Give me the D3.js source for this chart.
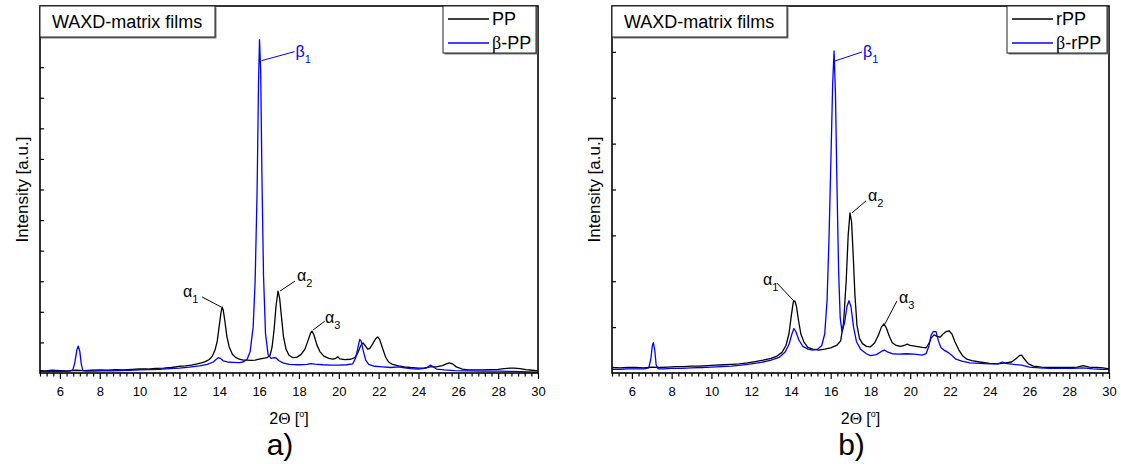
<!DOCTYPE html>
<html><head><meta charset="utf-8">
<script src="https://cdn.jsdelivr.net/npm/d3@7"></script>
<style>
body{margin:0;background:#fff}
svg{display:block}
text{font-family:"Liberation Sans", Arial, sans-serif;fill:#000}
</style>
</head><body>
<svg id="c" width="1121" height="464"></svg>
<script>
// ---------- DATA ----------
const xMajorTicks = [6,8,10,12,14,16,18,20,22,24,26,28,30];
const xDomain = [5, 30];
const boxTitle = "WAXD-matrix films";
const yTitle = "Intensity [a.u.]";

// Panel a) PP (black)
const ppA = [[5.0,0.08],[5.3,0.07],[5.6,0.09],[6.0,0.08],[6.4,0.07],[6.8,0.09],[7.2,0.08],[7.6,0.09],[8.0,0.10],[8.4,0.09],[8.8,0.11],[9.2,0.10],[9.6,0.12],[10.0,0.13],[10.4,0.13],[10.8,0.15],[11.2,0.16],[11.6,0.18],[12.0,0.22],[12.3,0.23],[12.6,0.26],[12.9,0.30],[13.1,0.33],[13.3,0.37],[13.5,0.44],[13.65,0.55],[13.8,0.78],[13.9,1.05],[14.0,1.55],[14.08,1.95],[14.14,2.16],[14.2,2.05],[14.28,1.7],[14.38,1.2],[14.5,0.85],[14.65,0.62],[14.8,0.52],[15.0,0.45],[15.2,0.42],[15.4,0.42],[15.6,0.41],[15.8,0.42],[16.0,0.45],[16.2,0.48],[16.4,0.5],[16.55,0.58],[16.65,0.85],[16.75,1.4],[16.85,2.2],[16.95,2.68],[17.03,2.45],[17.12,1.85],[17.22,1.2],[17.35,0.78],[17.5,0.58],[17.7,0.5],[17.9,0.52],[18.1,0.6],[18.3,0.78],[18.45,1.05],[18.58,1.3],[18.65,1.37],[18.75,1.25],[18.9,0.92],[19.05,0.7],[19.25,0.55],[19.5,0.48],[19.7,0.45],[19.85,0.48],[19.95,0.53],[20.05,0.46],[20.3,0.44],[20.6,0.45],[20.8,0.5],[20.95,0.65],[21.05,0.82],[21.15,0.95],[21.22,0.98],[21.32,0.9],[21.45,0.78],[21.55,0.8],[21.7,0.95],[21.85,1.12],[21.95,1.18],[22.05,1.1],[22.2,0.8],[22.35,0.52],[22.5,0.36],[22.7,0.28],[23.0,0.23],[23.3,0.2],[23.6,0.18],[24.0,0.16],[24.3,0.17],[24.6,0.2],[24.9,0.2],[25.2,0.24],[25.4,0.3],[25.55,0.33],[25.7,0.3],[25.9,0.2],[26.2,0.13],[26.5,0.1],[26.8,0.1],[27.2,0.1],[27.6,0.11],[28.0,0.12],[28.3,0.14],[28.6,0.16],[28.8,0.16],[29.1,0.14],[29.4,0.11],[29.7,0.09],[30.0,0.07]];

// Panel a) beta-PP (blue)
const bppA = [[5.0,0.05],[5.4,0.05],[5.8,0.06],[6.2,0.05],[6.5,0.06],[6.65,0.1],[6.75,0.35],[6.85,0.75],[6.92,0.88],[7.0,0.7],[7.07,0.3],[7.15,0.08],[7.3,0.06],[7.7,0.06],[8.1,0.07],[8.5,0.07],[9.0,0.08],[9.5,0.09],[10.0,0.1],[10.5,0.11],[11.0,0.12],[11.5,0.14],[12.0,0.16],[12.5,0.19],[13.0,0.23],[13.4,0.28],[13.7,0.36],[13.85,0.45],[13.95,0.5],[14.05,0.48],[14.2,0.4],[14.4,0.36],[14.7,0.35],[15.0,0.34],[15.2,0.36],[15.4,0.45],[15.55,0.7],[15.7,1.5],[15.8,3.0],[15.9,6.0],[15.97,9.5],[16.02,10.9],[16.08,9.8],[16.14,6.5],[16.22,3.2],[16.32,1.3],[16.45,0.6],[16.6,0.48],[16.75,0.5],[16.85,0.49],[17.0,0.4],[17.2,0.33],[17.5,0.28],[18.0,0.27],[18.4,0.28],[18.6,0.31],[18.8,0.29],[19.2,0.27],[19.6,0.26],[20.0,0.26],[20.4,0.27],[20.7,0.3],[20.85,0.5],[20.95,0.8],[21.05,1.1],[21.12,1.05],[21.22,0.75],[21.35,0.42],[21.5,0.28],[21.8,0.22],[22.2,0.2],[22.6,0.18],[23.0,0.2],[23.2,0.18],[23.6,0.14],[24.0,0.13],[24.4,0.16],[24.6,0.26],[24.7,0.22],[24.9,0.13],[25.3,0.1],[25.8,0.08],[26.5,0.07],[27.2,0.06],[28.0,0.06],[28.8,0.05],[29.5,0.04],[30.0,0.03]];

// Panel b) rPP (black)
const rppB = [[5.0,0.12],[5.4,0.11],[5.8,0.12],[6.2,0.12],[6.6,0.11],[7.0,0.13],[7.4,0.12],[7.8,0.13],[8.2,0.14],[8.6,0.14],[9.0,0.15],[9.4,0.15],[9.8,0.16],[10.2,0.17],[10.6,0.18],[11.0,0.19],[11.4,0.2],[11.8,0.22],[12.2,0.25],[12.6,0.28],[13.0,0.32],[13.3,0.37],[13.55,0.45],[13.75,0.6],[13.9,0.85],[14.02,1.25],[14.12,1.55],[14.2,1.57],[14.28,1.45],[14.38,1.15],[14.5,0.85],[14.65,0.68],[14.85,0.56],[15.1,0.52],[15.4,0.5],[15.7,0.52],[16.0,0.55],[16.3,0.6],[16.5,0.7],[16.65,1.1],[16.78,2.0],[16.88,3.0],[16.97,3.49],[17.05,3.3],[17.13,2.6],[17.22,1.7],[17.32,1.05],[17.45,0.75],[17.6,0.64],[17.8,0.58],[18.0,0.57],[18.2,0.65],[18.4,0.82],[18.55,1.0],[18.68,1.07],[18.8,0.98],[18.95,0.8],[19.1,0.66],[19.3,0.6],[19.5,0.58],[19.7,0.6],[19.85,0.63],[20.0,0.6],[20.3,0.58],[20.6,0.56],[20.8,0.55],[20.95,0.65],[21.05,0.76],[21.2,0.83],[21.35,0.8],[21.5,0.78],[21.65,0.85],[21.8,0.9],[21.95,0.92],[22.1,0.85],[22.25,0.68],[22.45,0.5],[22.65,0.37],[22.85,0.3],[23.1,0.27],[23.5,0.24],[24.0,0.21],[24.4,0.2],[24.8,0.22],[25.1,0.24],[25.35,0.32],[25.5,0.38],[25.6,0.39],[25.75,0.3],[25.95,0.2],[26.2,0.15],[26.6,0.13],[27.0,0.12],[27.5,0.12],[28.0,0.12],[28.4,0.13],[28.7,0.16],[29.0,0.13],[29.4,0.12],[29.7,0.11],[30.0,0.09]];

// Panel b) beta-rPP (blue)
const brppB = [[5.0,0.08],[5.4,0.08],[5.8,0.09],[6.2,0.09],[6.6,0.09],[6.85,0.11],[6.95,0.3],[7.03,0.6],[7.08,0.66],[7.15,0.5],[7.22,0.18],[7.32,0.09],[7.6,0.09],[8.0,0.1],[8.5,0.1],[9.0,0.11],[9.5,0.12],[10.0,0.13],[10.5,0.14],[11.0,0.15],[11.5,0.17],[12.0,0.2],[12.5,0.23],[13.0,0.28],[13.4,0.34],[13.7,0.45],[13.9,0.62],[14.05,0.85],[14.15,0.97],[14.25,0.9],[14.4,0.72],[14.6,0.58],[14.85,0.52],[15.1,0.5],[15.35,0.52],[15.55,0.6],[15.7,0.85],[15.82,1.6],[15.92,3.0],[16.02,4.8],[16.1,6.3],[16.17,7.02],[16.24,6.1],[16.32,4.0],[16.4,2.2],[16.48,1.2],[16.57,0.9],[16.7,1.1],[16.82,1.45],[16.92,1.575],[17.02,1.45],[17.15,1.0],[17.3,0.68],[17.5,0.52],[17.8,0.42],[18.0,0.38],[18.3,0.4],[18.55,0.47],[18.7,0.5],[18.85,0.46],[19.1,0.42],[19.4,0.41],[19.8,0.42],[20.2,0.41],[20.6,0.39],[20.8,0.42],[20.95,0.6],[21.05,0.82],[21.15,0.9],[21.3,0.9],[21.42,0.7],[21.55,0.55],[21.7,0.5],[21.9,0.45],[22.1,0.38],[22.3,0.3],[22.6,0.26],[23.0,0.22],[23.5,0.21],[24.0,0.2],[24.4,0.2],[24.65,0.24],[24.8,0.21],[25.2,0.19],[25.6,0.17],[26.0,0.13],[26.5,0.11],[27.0,0.1],[27.6,0.1],[28.2,0.1],[28.7,0.11],[29.2,0.09],[29.6,0.08],[30.0,0.08]];

const legendA = ["PP", "β-PP"];
const legendB = ["rPP", "β-rPP"];
const colors = ["#000000", "#0000ff"];

// ---------- DRAW ----------
const svg = d3.select("#c");

function panel(cfg){
  const g = svg.append("g");
  const x = d3.scaleLinear().domain(xDomain).range([cfg.left, cfg.right]);
  const y = d3.scaleLinear().domain([0, cfg.ymax]).range([cfg.bottom, cfg.top]);
  const id = "clip" + cfg.name;
  svg.append("clipPath").attr("id", id).append("rect")
    .attr("x", cfg.left).attr("y", cfg.top).attr("width", cfg.right-cfg.left).attr("height", cfg.bottom-cfg.top);

  // x axis: major + minor ticks, outward
  const minor = d3.range(5, 30.001, 1/3).filter(v => Math.abs(v/2 - Math.round(v/2)) > 0.01);
  const axM = g.append("g").attr("transform", `translate(0,${cfg.bottom})`)
    .call(d3.axisBottom(x).tickValues(xMajorTicks).tickSize(6).tickPadding(8).tickFormat(d3.format("d")));
  const axm = g.append("g").attr("transform", `translate(0,${cfg.bottom})`)
    .call(d3.axisBottom(x).tickValues(minor).tickSize(3.5).tickFormat(""));
  [axM, axm].forEach(a => { a.select(".domain").remove(); a.selectAll("line").attr("stroke","#000").attr("stroke-width",1.2); });
  axM.selectAll("text").attr("font-size", 13).attr("font-family", '"Liberation Sans", Arial, sans-serif').attr("fill","#000");

  // y axis (ticks inside, no labels)
  const ay = g.append("g").attr("transform", `translate(${cfg.left},0)`)
    .call(d3.axisRight(y).tickValues(d3.range(1, cfg.ymax)).tickSize(4).tickFormat(""));
  ay.select(".domain").remove();
  ay.selectAll("line").attr("stroke","#000").attr("stroke-width",1.2);

  // curves
  const line = d3.line().x(d => x(d[0])).y(d => y(d[1]));
  const cg = g.append("g").attr("clip-path", `url(#${id})`);
  [cfg.s1, cfg.s2].forEach((s, i) => {
    cg.append("path").datum(s).attr("d", line).attr("fill","none")
      .attr("stroke", colors[i]).attr("stroke-width", 1.3).attr("stroke-linejoin","round");
  });

  // frame
  g.append("rect").attr("x", cfg.left).attr("y", cfg.top)
    .attr("width", cfg.right-cfg.left).attr("height", cfg.bottom-cfg.top)
    .attr("fill","none").attr("stroke","#000").attr("stroke-width",1.6);

  // title box
  const bx = cfg.left, by = cfg.top, bw = 175, bh = 31;
  g.append("rect").attr("x", bx+1.5).attr("y", by+1.5).attr("width", bw).attr("height", bh).attr("fill","#777");
  g.append("rect").attr("x", bx).attr("y", by).attr("width", bw).attr("height", bh)
    .attr("fill","#fff").attr("stroke","#222").attr("stroke-width",1);
  g.append("text").attr("x", bx+12).attr("y", by+22).attr("font-size", 18).text(boxTitle);

  // legend box
  const lw = cfg.legW, lx = cfg.right - lw - 2, ly = cfg.top, lh = 47;
  g.append("rect").attr("x", lx+1.5).attr("y", ly+1.5).attr("width", lw).attr("height", lh).attr("fill","#777");
  g.append("rect").attr("x", lx).attr("y", ly).attr("width", lw).attr("height", lh)
    .attr("fill","#fff").attr("stroke","#222").attr("stroke-width",1);
  cfg.legend.forEach((name, i) => {
    const yy = ly + 13 + i*24;
    g.append("line").attr("x1", lx+5).attr("x2", lx+46).attr("y1", yy).attr("y2", yy)
      .attr("stroke", colors[i]).attr("stroke-width", 1.3);
    const t = g.append("text").attr("x", lx+49).attr("y", yy+6).attr("font-size", 18);
    if (name.startsWith("β")) {
      t.append("tspan").attr("font-family",'"Liberation Serif", serif').text("β");
      t.append("tspan").text(name.slice(1));
    } else t.text(name);
  });

  // axis titles
  const cx = (cfg.left + cfg.right)/2;
  const xt = g.append("text").attr("x", cx).attr("y", cfg.bottom + 51).attr("text-anchor","middle").attr("font-size", 16);
  xt.append("tspan").text("2");
  xt.append("tspan").attr("font-family",'"Liberation Serif", serif').attr("font-size", 17).text("Θ");
  xt.append("tspan").text(" [");
  xt.append("tspan").attr("font-size", 9).attr("dy", -7).text("o");
  xt.append("tspan").attr("dy", 7).text("]");

  g.append("text").attr("transform", `translate(${cfg.left - 12},${(cfg.top+cfg.bottom)/2}) rotate(-90)`)
    .attr("text-anchor","middle").attr("font-size", 17).text(yTitle);

  // panel letter
  g.append("text").attr("x", cx - 9).attr("y", 455).attr("text-anchor","middle")
    .attr("font-family",'"Liberation Serif", "Times New Roman", serif').attr("font-size", 30).text(cfg.letter);

  // annotations
  cfg.notes.forEach(n => {
    const px = x(n.peak[0]), py = y(n.peak[1]);
    const col = n.color;
    g.append("line").attr("x1", px + n.from[0]).attr("y1", py + n.from[1])
      .attr("x2", px + n.to[0]).attr("y2", py + n.to[1]).attr("stroke", col).attr("stroke-width", 1);
    const t = g.append("text").attr("x", px + n.text[0]).attr("y", py + n.text[1]).attr("font-size", 16).attr("fill", col);
    t.append("tspan").attr("fill", col).text(n.sym);
    t.append("tspan").attr("fill", col).attr("font-size", 11).attr("dy", 6).text(n.sub);
  });
}

panel({
  name: "a", left: 40, right: 538, top: 6, bottom: 373, ymax: 12, legW: 93,
  s1: ppA, s2: bppA, legend: legendA, letter: "a)",
  notes: [
    {peak:[16.02,10.9], color:"#0000ff", from:[2,21], to:[35,12], text:[36,17], sym:"β", sub:"1"},
    {peak:[14.14,2.16], color:"#000", from:[-1,0], to:[-20,-10], text:[-39,-10], sym:"α", sub:"1"},
    {peak:[16.95,2.68], color:"#000", from:[2,0], to:[17,-10], text:[19,-10], sym:"α", sub:"2"},
    {peak:[18.65,1.37], color:"#000", from:[1,-1], to:[13,-10], text:[13,-8], sym:"α", sub:"3"}
  ]
});

panel({
  name: "b", left: 612, right: 1109, top: 6, bottom: 373, ymax: 8, legW: 100,
  s1: rppB, s2: brppB, legend: legendB, letter: "b)",
  notes: [
    {peak:[16.17,7.02], color:"#0000ff", from:[1,10], to:[28,1], text:[29,6], sym:"β", sub:"1"},
    {peak:[14.2,1.57], color:"#000", from:[-1,0], to:[-18,-18], text:[-32,-16], sym:"α", sub:"1"},
    {peak:[16.97,3.49], color:"#000", from:[2,0], to:[16,-12], text:[18,-12], sym:"α", sub:"2"},
    {peak:[18.68,1.07], color:"#000", from:[1,0], to:[13,-23], text:[15,-21], sym:"α", sub:"3"}
  ]
});
</script>
</body></html>
